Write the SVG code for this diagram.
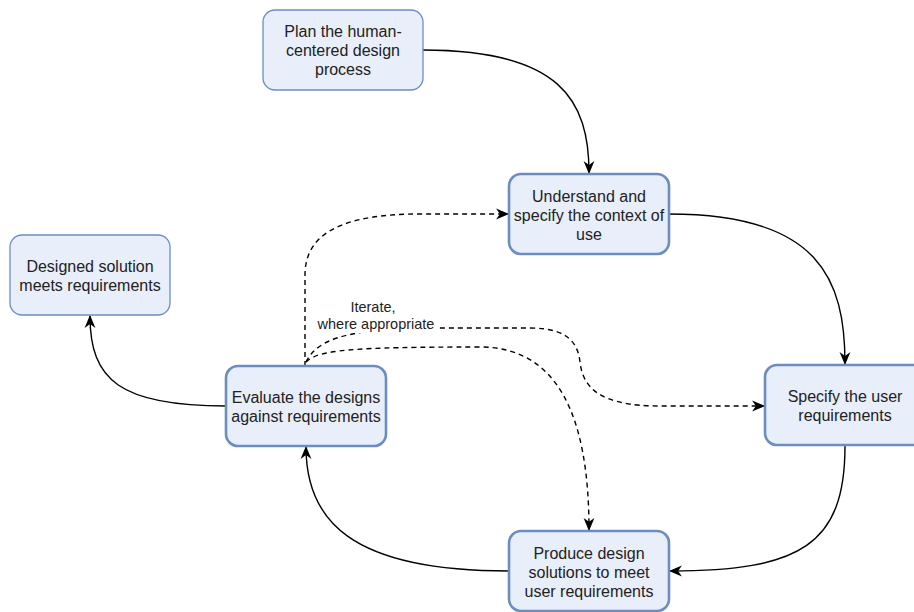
<svg xmlns="http://www.w3.org/2000/svg" width="914" height="612" viewBox="0 0 914 612">
<style>
.node rect{fill:#e8eefa;stroke:#6c8ebf}
.thin rect{stroke-width:1.3}
.thick rect{stroke-width:2.6}
.node text{font-family:"Liberation Sans",Arial,sans-serif;font-size:16px;fill:#222;text-anchor:middle}
.edge{fill:none;stroke:#000;stroke-width:1.4}
.dash{stroke-dasharray:5 4}
.lbl{font-family:"Liberation Sans",Arial,sans-serif;font-size:14.5px;fill:#222;text-anchor:middle}
</style>
<defs>
<marker id="arr" viewBox="0 0 12 12" refX="11" refY="6" markerWidth="13" markerHeight="13" markerUnits="userSpaceOnUse" orient="auto">
<path d="M0,1 L12,6 L0,11 L3.5,6 Z" fill="#000"/>
</marker>
</defs>
<rect width="914" height="612" fill="#fff"/>
<g id="connectors">
<path class="edge" d="M423,50 C560,50 589,100 589,173" marker-end="url(#arr)"/>
<path class="edge" d="M669,214 C820,214 845,280 845,364" marker-end="url(#arr)"/>
<path class="edge" d="M845,446 C845,545 800,571 670,571" marker-end="url(#arr)"/>
<path class="edge" d="M509,571 C350,571 306,520 306,447" marker-end="url(#arr)"/>
<path class="edge" d="M226,406 C120,406 90,380 90,316" marker-end="url(#arr)"/>
<path class="edge dash" d="M305,366 L305,275 C305,232 345,214 420,214 L508,214" marker-end="url(#arr)"/>
<path class="edge dash" d="M306,362 C318,338 350,328 440,328 L530,328 C570,328 578,345 580,362 C583,388 600,406 660,406 L764,406" marker-end="url(#arr)"/>
<path class="edge dash" d="M306,362 C318,350 350,347 480,347 C560,347 589,420 589,530" marker-end="url(#arr)"/>
<rect x="314" y="298" width="124" height="35" fill="#fff"/>
<text class="lbl" x="373" y="312">Iterate,</text>
<text class="lbl" x="376" y="329">where appropriate</text>
</g>
<g id="plan" class="node thin">
<rect x="263" y="10" width="160" height="80" rx="12"/>
<text x="343" y="37">Plan the human-</text>
<text x="343" y="56">centered design</text>
<text x="343" y="75">process</text>
</g>
<g id="understand" class="node thick">
<rect x="509" y="174" width="160" height="80" rx="12"/>
<text x="589" y="202">Understand and</text>
<text x="589" y="221">specify the context of</text>
<text x="589" y="240">use</text>
</g>
<g id="designed" class="node thin">
<rect x="10" y="235" width="160" height="80" rx="12"/>
<text x="90" y="272">Designed solution</text>
<text x="90" y="291">meets requirements</text>
</g>
<g id="evaluate" class="node thick">
<rect x="226" y="366" width="160" height="80" rx="12"/>
<text x="306" y="403">Evaluate the designs</text>
<text x="306" y="422">against requirements</text>
</g>
<g id="specify" class="node thick">
<rect x="765" y="365" width="160" height="80" rx="12"/>
<text x="845" y="402">Specify the user</text>
<text x="845" y="421">requirements</text>
</g>
<g id="produce" class="node thick">
<rect x="509" y="531" width="160" height="80" rx="12"/>
<text x="589" y="559">Produce design</text>
<text x="589" y="578">solutions to meet</text>
<text x="589" y="597">user requirements</text>
</g>
</svg>
